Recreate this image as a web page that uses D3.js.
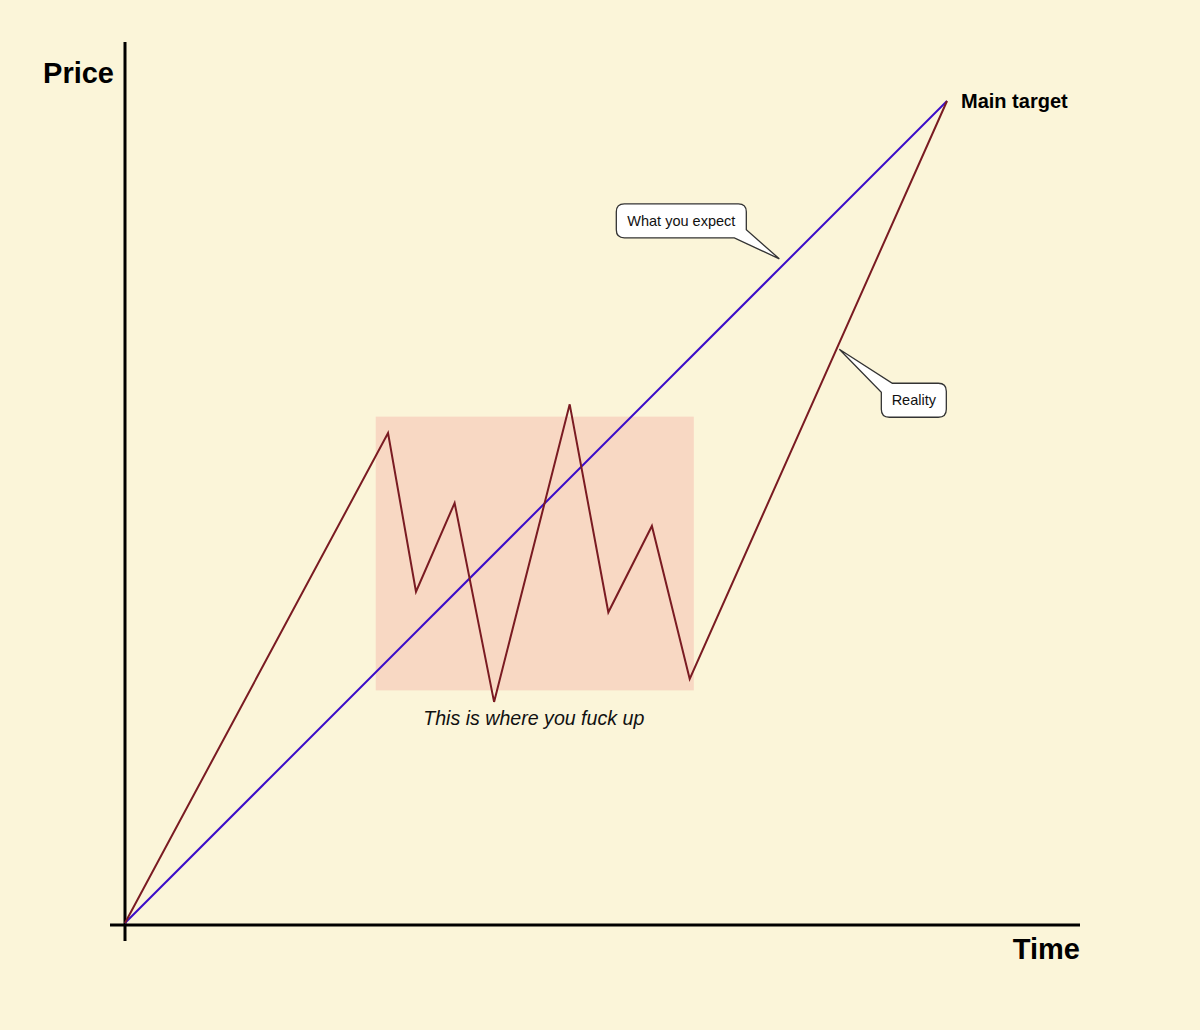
<!DOCTYPE html>
<html><head><meta charset="utf-8">
<script src="https://cdn.jsdelivr.net/npm/d3@7"></script>
<style>
html,body{margin:0;padding:0;background:#FBF5D9;}
svg{display:block;}
</style></head>
<body>
<svg id="chart" width="1200" height="1030"></svg>
<script>
// ---- data (abstract units: time 0..100, price 0..100) ----
const expectTime  = [0, 100];
const expectPrice = [0, 100];
const realityTime  = [0, 32.0, 35.4, 40.1, 44.9, 54.1, 58.8, 64.1, 68.7, 100];
const realityPrice = [0, 59.6, 40.3, 51.1, 26.9, 63.1, 37.8, 48.3, 29.7, 100];
const zoneTime  = [30.5, 69.2];
const zonePrice = [28.3, 61.6];
const axisLabels = ["Time", "Price"];
const targetLabel = "Main target";
const zoneLabel = "This is where you fuck up";
const calloutTexts = ["What you expect", "Reality"];
const calloutAnchorsTime  = [79.6, 86.9];
const calloutAnchorsPrice = [80.8, 69.8];

const svg = d3.select("#chart");
svg.append("rect").attr("width",1200).attr("height",1030).attr("fill","#FBF5D9");

const x = d3.scaleLinear().domain([0,100]).range([125, 947]);
const y = d3.scaleLinear().domain([0,100]).range([923, 101]);
const FONT = "'Liberation Sans', Helvetica, Arial, sans-serif";

// zone
svg.append("rect")
  .attr("x", x(zoneTime[0])).attr("y", y(zonePrice[1]))
  .attr("width", x(zoneTime[1]) - x(zoneTime[0]))
  .attr("height", y(zonePrice[0]) - y(zonePrice[1]))
  .attr("fill", "#F8D8C3");

// axes
svg.append("line").attr("x1",125).attr("x2",125).attr("y1",42).attr("y2",941)
  .attr("stroke","#000").attr("stroke-width",3);
svg.append("line").attr("x1",110).attr("x2",1080).attr("y1",925).attr("y2",925)
  .attr("stroke","#000").attr("stroke-width",3);

const line = d3.line().x(d=>x(d[0])).y(d=>y(d[1]));
svg.append("path").datum(expectTime.map((t,i)=>[t,expectPrice[i]]))
  .attr("d", line).attr("fill","none").attr("stroke","#3B0CC9").attr("stroke-width",2);
svg.append("path").datum(realityTime.map((t,i)=>[t,realityPrice[i]]))
  .attr("d", line).attr("fill","none").attr("stroke","#7A1B22").attr("stroke-width",2)
  .attr("stroke-linejoin","miter");

// labels
svg.append("text").attr("x",114).attr("y",83).attr("text-anchor","end")
  .attr("font-family",FONT).attr("font-weight","bold").attr("font-size",29)
  .attr("fill","#000").text(axisLabels[1]);
svg.append("text").attr("x",1080).attr("y",959).attr("text-anchor","end")
  .attr("font-family",FONT).attr("font-weight","bold").attr("font-size",29)
  .attr("fill","#000").text(axisLabels[0]);
svg.append("text").attr("x",x(100)+14).attr("y",y(100)+7)
  .attr("font-family",FONT).attr("font-weight","bold").attr("font-size",20)
  .attr("fill","#000").text(targetLabel);
svg.append("text").attr("x",(x(zoneTime[0])+x(zoneTime[1]))/2-1).attr("y",y(zonePrice[0])+35)
  .attr("text-anchor","middle")
  .attr("font-family",FONT).attr("font-style","italic").attr("font-size",19.6)
  .attr("fill","#111").text(zoneLabel);

// callouts
function roundedBoxPath(x0,y0,x1,y1,r,tail){
  let p = `M${x0+r},${y0}`;
  if (tail.side==='tl'){
    p = `M${tail.b[0]},${y0}`;
  }
  p += ` H${x1-r} Q${x1},${y0} ${x1},${y0+r}`;
  if (tail.side==='br'){
    p += ` V${tail.a[1]} L${tail.tip[0]},${tail.tip[1]} L${tail.b[0]},${y1}`;
    p += ` H${x0+r} Q${x0},${y1} ${x0},${y1-r} V${y0+r} Q${x0},${y0} ${x0+r},${y0} Z`;
  } else {
    p += ` V${y1-r} Q${x1},${y1} ${x1-r},${y1} H${x0+r} Q${x0},${y1} ${x0},${y1-r}`;
    p += ` V${tail.a[1]} L${tail.tip[0]},${tail.tip[1]} Z`;
  }
  return p;
}

// "What you expect"
{
  const tx = x(calloutAnchorsTime[0]), ty = y(calloutAnchorsPrice[0]);
  const x0 = tx-163, y0 = ty-55, x1 = tx-33, y1 = ty-21;
  svg.append("path")
    .attr("d", roundedBoxPath(x0,y0,x1,y1,8,{side:'br',a:[x1,y1-8],tip:[tx,ty],b:[x1-12,y1]}))
    .attr("fill","#fff").attr("stroke","#333").attr("stroke-width",1.3);
  svg.append("text").attr("x",(x0+x1)/2).attr("y",(y0+y1)/2+5).attr("text-anchor","middle")
    .attr("font-family",FONT).attr("font-size",14.5).attr("fill","#111").text(calloutTexts[0]);
}
// "Reality"
{
  const tx = x(calloutAnchorsTime[1]), ty = y(calloutAnchorsPrice[1]);
  const x0 = tx+42, y0 = ty+34, x1 = tx+107, y1 = ty+68;
  svg.append("path")
    .attr("d", roundedBoxPath(x0,y0,x1,y1,8,{side:'tl',a:[x0,y0+9],tip:[tx,ty],b:[x0+11,y0]}))
    .attr("fill","#fff").attr("stroke","#333").attr("stroke-width",1.3);
  svg.append("text").attr("x",(x0+x1)/2).attr("y",(y0+y1)/2+5).attr("text-anchor","middle")
    .attr("font-family",FONT).attr("font-size",14.5).attr("fill","#111").text(calloutTexts[1]);
}
</script>
</body></html>
